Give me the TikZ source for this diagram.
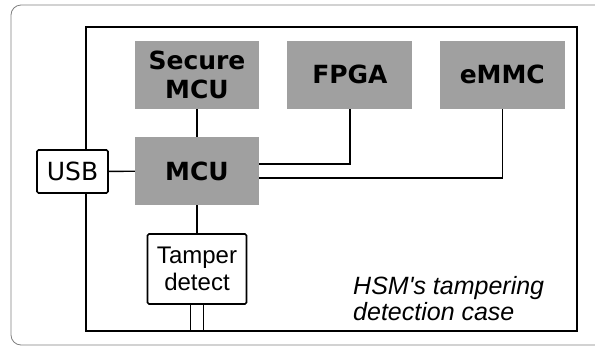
\documentclass[tikz,border=0pt]{standalone}
\usepackage{fontspec}
\setmainfont{DejaVu Sans}
\newfontfamily\arialfont{Liberation Sans}
\usepackage{xcolor}
\definecolor{hsmBlock}{HTML}{A0A0A0}
\definecolor{hsmFrame}{HTML}{808080}
\usetikzlibrary{positioning}
\tikzset{
    block/.style={
        fill=hsmBlock,
        rectangle,
        align=center,
        minimum height=68pt,
        minimum width=124pt,
        inner sep=0pt,
        font=\fontsize{25}{29}\selectfont\bfseries
    },
    port/.style={
        draw=black,
        fill=white,
        rectangle,
        rounded corners=1.5pt,
        align=center,
        line width=1.6pt,
        inner sep=0pt
    },
    casebox/.style={
        draw=black,
        rectangle,
        line width=1.6pt
    },
    wire/.style={
        line width=1.4pt,
        color=black
    }
}

\begin{document}
\begin{tikzpicture}[x=1pt,y=-1pt]
    \useasboundingbox (0,0) rectangle (595,349);
    % Outer frame
    \draw[hsmFrame, line width=0.8pt, rounded corners=10pt] (620,5) -- (11,5) -- (11,345) -- (620,345);

    % Case
    \node[casebox, minimum width=491pt, minimum height=304pt] (case) at (331.5,179) {};

    % Blocks
    \node[block] (mcu) at (197,171) {MCU};
    \node[block, above=28pt of mcu] (secure) {Secure\\MCU};
    \node[block, right=28pt of secure, minimum width=125pt] (fpga) {FPGA};
    \node[block, right=27pt of fpga, minimum width=125pt] (emmc) {eMMC};
    \node[port, minimum width=71pt, minimum height=43pt, font=\fontsize{25}{29}\selectfont] (usb) at (72.5,171.5) {USB};
    \node[port, below=28pt of mcu, minimum width=99pt, minimum height=70pt, font=\arialfont\fontsize{24}{27}\selectfont] (tamper) {Tamper\\detect};

    % Connections
    \draw[wire] (secure) -- (mcu);
    \draw[wire] (usb) -- (mcu);
    \draw[wire] (mcu) -- (tamper);
    \draw[wire] ([yshift=7pt]mcu.east) -| (fpga);
    \draw[wire] ([yshift=-7pt]mcu.east) -| (emmc);
    \draw[wire] ([xshift=-6.5pt]tamper.south) -- ([xshift=-6.5pt]tamper.south |- case.south);
    \draw[wire] ([xshift=6.5pt]tamper.south) -- ([xshift=6.5pt]tamper.south |- case.south);

    \node[anchor=north west, align=left, inner sep=0pt, font=\arialfont\itshape\fontsize{25}{26}\selectfont] (caption) at (353,276) {HSM's tampering\\detection case};
\end{tikzpicture}
\end{document}
